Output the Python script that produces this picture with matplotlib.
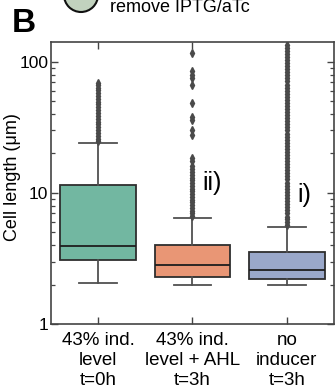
import matplotlib
matplotlib.use("Agg")
import matplotlib.pyplot as plt
from matplotlib.patches import Circle
from matplotlib.ticker import LogLocator, FixedLocator, NullFormatter

plt.rcParams['font.family'] = ['Liberation Sans', 'DejaVu Sans']

# box statistics (cell length, um)
labels = ["43% ind.\nlevel\nt=0h", "43% ind.\nlevel + AHL\nt=3h", "no\ninducer\nt=3h"]
q1 = [3.08, 2.30, 2.19]
med = [3.92, 2.84, 2.58]
q3 = [11.5, 3.99, 3.55]
whislo = [2.05, 2.0, 2.0]
whishi = [24.2, 6.5, 5.53]

fliers_t0 = [24.8, 26.0, 27.3, 28.7, 30.2, 31.7, 33.3, 35.0, 36.8, 38.7, 40.7,
             42.8, 45.0, 47.3, 49.7, 52.2, 54.9, 57.7, 60.6, 63.7, 66.5, 68.5]
fliers_ahl = [6.7, 7.0, 7.3, 7.7, 8.1, 8.5, 8.9, 9.3, 9.8, 10.3, 10.8, 11.3,
              11.9, 12.5, 13.1, 13.8, 14.5, 15.2, 16.0, 17.4, 18.4, 27.7, 30.2,
              36.1, 38.2, 48.3, 66.7, 75.1, 79.5, 84.4, 116]
fliers_none = [5.7, 6.0, 6.3, 6.6, 7.0, 7.4, 7.8, 8.2, 8.7, 9.2, 9.7, 10.2, 10.8,
               11.4, 12.0, 12.7, 13.4, 14.1, 14.9, 15.7, 16.6, 17.5, 18.5, 19.5,
               20.6, 21.7, 22.9, 24.2, 25.5, 26.9, 28.4, 30.0, 31.6, 33.4, 35.2,
               37.2, 39.2, 41.4, 43.7, 46.1, 48.6, 51.3, 54.1, 57.1, 60.3, 63.6,
               67.1, 70.8, 74.7, 78.8, 83.2, 87.8, 92.6, 97.7, 103, 109, 115, 121,
               128, 135]
fliers = [fliers_t0, fliers_ahl, fliers_none]

colors = ["#72b7a1", "#e99675", "#9aa8ca"]

stats = []
for i in range(3):
    stats.append(dict(q1=q1[i], med=med[i], q3=q3[i], whislo=whislo[i],
                      whishi=whishi[i], fliers=fliers[i]))

fig = plt.figure(figsize=(3.35, 3.91), dpi=100)
ax = fig.add_axes([0.152, 0.171, 0.845, 0.722])

lc = "#2e2e2e"
bp = ax.bxp(stats, positions=[0, 1, 2], widths=0.8, capwidths=0.4,
            patch_artist=True,
            boxprops=dict(edgecolor=lc, linewidth=1.3),
            whiskerprops=dict(color="#505050", linewidth=1.3),
            capprops=dict(color="#505050", linewidth=1.3),
            medianprops=dict(color="#1e1e1e", linewidth=1.3),
            flierprops=dict(marker="d", markersize=4.0, markerfacecolor="#4a4a4a",
                            markeredgecolor="#4a4a4a", linestyle="none"))
for patch, c in zip(bp["boxes"], colors):
    patch.set_facecolor(c)

ax.set_yscale("log")
ax.set_ylim(1, 142)
ax.set_xlim(-0.5, 2.5)
ax.yaxis.set_major_locator(FixedLocator([1, 10, 100]))
ax.set_yticklabels(["1", "10", "100"])
ax.yaxis.set_minor_locator(LogLocator(base=10, subs=range(2, 10)))
ax.yaxis.set_minor_formatter(NullFormatter())
ax.set_xticks([0, 1, 2])
ax.set_xticklabels(labels, linespacing=1.2)

ax.tick_params(which="both", direction="in", top=True, right=True, color="#444444")
ax.tick_params(which="major", length=5, width=1.0, pad=3)
ax.tick_params(which="minor", length=3, width=0.9)
ax.tick_params(axis="y", labelsize=12.5, pad=2)
ax.tick_params(axis="x", labelsize=13.5, pad=6)
for sp in ax.spines.values():
    sp.set_color("#444444")
    sp.set_linewidth(1.2)

ax.set_ylabel("Cell length (\u03bcm)", fontsize=13)
ax.yaxis.set_label_coords(-0.105, 0.52)

ax.text(1.11, 11.9, "ii)", fontsize=18, va="center", ha="left")
ax.text(2.11, 9.66, "i)", fontsize=18, va="center", ha="left")

fig.text(0.036, 1 - 32 / 391, "B", fontsize=24, fontweight="bold", ha="left",
         va="baseline")
circ = Circle((81, 391 + 5), 17, transform=None, facecolor="#c1d2be",
              edgecolor="#111111", linewidth=1.5)
fig.patches.append(circ)
fig.text(110 / 335, 1 - 12 / 391, "remove IPTG/aTc", fontsize=13, ha="left",
         va="baseline")

fig.savefig("out.png", dpi=100)
